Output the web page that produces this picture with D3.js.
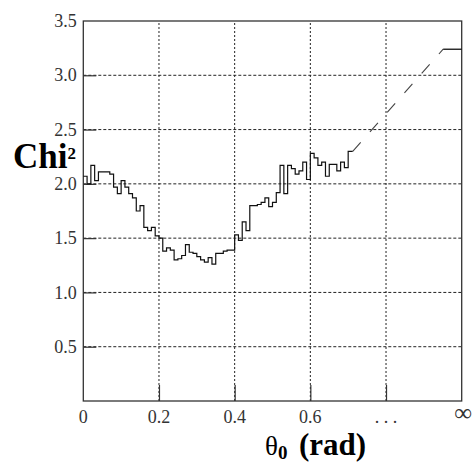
<!DOCTYPE html>
<html>
<head>
<meta charset="utf-8">
<script src="https://cdn.jsdelivr.net/npm/d3@7"></script>
<style>
  body { margin: 0; background: #fff; }
  svg { display: block; font-family: "Liberation Serif", "Times New Roman", serif; }
</style>
</head>
<body>
<div class="container"></div>
<script>
// Chi2 per bin of theta0, bin width 0.01 rad starting at 0
const binWidth = 0.01;
const chiValues = [
  2.07, 2.00, 2.17, 2.03, 2.11, 2.11, 2.11, 2.09, 1.97, 1.91,
  2.03, 1.97, 1.91, 1.87, 1.75, 1.80, 1.60, 1.57, 1.60, 1.52,
  1.50, 1.38, 1.41, 1.39, 1.30, 1.31, 1.34, 1.44, 1.37, 1.36,
  1.33, 1.30, 1.28, 1.32, 1.26, 1.36, 1.36, 1.38, 1.39, 1.39,
  1.53, 1.48, 1.65, 1.57, 1.80, 1.80, 1.81, 1.83, 1.87, 1.79,
  1.83, 1.92, 2.17, 1.91, 2.17, 2.14, 2.09, 2.12, 2.20, 2.04,
  2.28, 2.24, 2.17, 2.20, 2.07, 2.18, 2.18, 2.12, 2.20, 2.15
];

// extrapolated part towards theta0 -> infinity
const tailX = [0.70, 0.712, 0.951, 1.0];
const tailY = [2.30, 2.30, 3.24, 3.24];

const yTicks = [0.5, 1.0, 1.5, 2.0, 2.5, 3.0, 3.5];
const xTicks = [0, 0.2, 0.4, 0.6, 0.8, 1.0];
const xTickLabels = ["0", "0.2", "0.4", "0.6", ". . .", "\u221E"];

(function () {
  const width = 474, height = 462;
  const margin = { top: 21, right: 12.3, bottom: 61, left: 83.3 };

  const svg = d3.select(".container").append("svg")
    .attr("width", width)
    .attr("height", height);

  const x = d3.scaleLinear().domain([0, 1]).range([margin.left, width - margin.right]);
  const y = d3.scaleLinear().domain([0, 3.5]).range([height - margin.bottom, margin.top]);

  // grid
  svg.append("g")
    .selectAll("line")
    .data(yTicks.filter(d => d < 3.5))
    .enter().append("line")
      .attr("x1", x(0)).attr("x2", x(1))
      .attr("y1", d => y(d)).attr("y2", d => y(d))
      .attr("stroke", "#222").attr("stroke-width", 1)
      .attr("stroke-dasharray", "3,2");

  svg.append("g")
    .selectAll("line")
    .data(xTicks.filter(d => d > 0 && d < 1))
    .enter().append("line")
      .attr("x1", d => x(d)).attr("x2", d => x(d))
      .attr("y1", y(0)).attr("y2", y(3.5))
      .attr("stroke", "#222").attr("stroke-width", 1)
      .attr("stroke-dasharray", "2,2");

  // y axis: ticks drawn inside the frame
  const yAxis = d3.axisRight(y)
    .tickValues(yTicks.filter(d => d < 3.5))
    .tickSize(13)
    .tickFormat("");
  svg.append("g")
    .attr("transform", "translate(" + x(0) + ",0)")
    .call(yAxis)
    .call(g => g.select(".domain").remove())
    .call(g => g.selectAll("line").attr("stroke", "#333").attr("stroke-width", 1.2));

  svg.append("g")
    .selectAll("text")
    .data(yTicks)
    .enter().append("text")
      .attr("x", x(0) - 6.5)
      .attr("y", d => y(d))
      .attr("dy", "0.34em")
      .attr("text-anchor", "end")
      .attr("font-size", 18)
      .attr("fill", "#333")
      .text(d => d.toFixed(1));

  // x axis: ticks drawn upwards
  const xAxis = d3.axisTop(x)
    .tickValues(xTicks.filter(d => d > 0 && d < 1))
    .tickSize(16)
    .tickFormat("");
  svg.append("g")
    .attr("transform", "translate(0," + y(0) + ")")
    .call(xAxis)
    .call(g => g.select(".domain").remove())
    .call(g => g.selectAll("line").attr("stroke", "#333").attr("stroke-width", 1.2));

  svg.append("g")
    .selectAll("text")
    .data(xTicks)
    .enter().append("text")
      .attr("x", (d, i) => i === 5 ? x(d) + 1.5 : x(d))
      .attr("y", (d, i) => i === 5 ? y(0) + 20 : y(0) + 22)
      .attr("text-anchor", "middle")
      .attr("font-size", (d, i) => i === 5 ? 25 : 18)
      .attr("fill", "#333")
      .text((d, i) => xTickLabels[i]);

  // frame
  svg.append("rect")
    .attr("x", x(0)).attr("y", y(3.5))
    .attr("width", x(1) - x(0)).attr("height", y(0) - y(3.5))
    .attr("fill", "none")
    .attr("stroke", "#333").attr("stroke-width", 1.3);

  // histogram
  const histPoints = chiValues.map((v, i) => [i * binWidth, v]);
  histPoints.push([chiValues.length * binWidth, chiValues[chiValues.length - 1]]);
  histPoints.push([tailX[0], tailY[0]]);
  histPoints.push([tailX[1], tailY[1]]);

  const stepLine = d3.line()
    .x(d => x(d[0]))
    .y(d => y(d[1]))
    .curve(d3.curveStepAfter);

  svg.append("path")
    .datum(histPoints)
    .attr("d", stepLine)
    .attr("fill", "none")
    .attr("stroke", "#111")
    .attr("stroke-width", 1.2);

  const straight = d3.line().x(d => x(d[0])).y(d => y(d[1]));

  svg.append("path")
    .datum([[tailX[1], tailY[1]], [tailX[2], tailY[2]]])
    .attr("d", straight)
    .attr("fill", "none")
    .attr("stroke", "#444")
    .attr("stroke-width", 1.1)
    .attr("stroke-dasharray", "12,14");

  svg.append("path")
    .datum([[tailX[2], tailY[2]], [tailX[3], tailY[3]]])
    .attr("d", straight)
    .attr("fill", "none")
    .attr("stroke", "#111")
    .attr("stroke-width", 1.3);

  // axis titles
  const yTitle = svg.append("text")
    .attr("x", 13)
    .attr("y", 168)
    .attr("font-weight", "bold")
    .attr("font-size", 35)
    .attr("fill", "#000");
  yTitle.append("tspan").text("Chi");
  yTitle.append("tspan")
    .attr("font-size", 17)
    .attr("dy", -9)
    .text("2");

  const xTitle = svg.append("text")
    .attr("x", 265)
    .attr("y", 455)
    .attr("fill", "#000");
  xTitle.append("tspan").attr("font-size", 27).text("\u03B8");
  xTitle.append("tspan")
    .attr("font-size", 19).attr("font-weight", "bold")
    .attr("dy", 4).text("0");
  xTitle.append("tspan")
    .attr("x", 299).attr("dy", -4)
    .attr("font-size", 31).attr("font-weight", "bold")
    .text("(rad)");
})();
</script>
</body>
</html>
